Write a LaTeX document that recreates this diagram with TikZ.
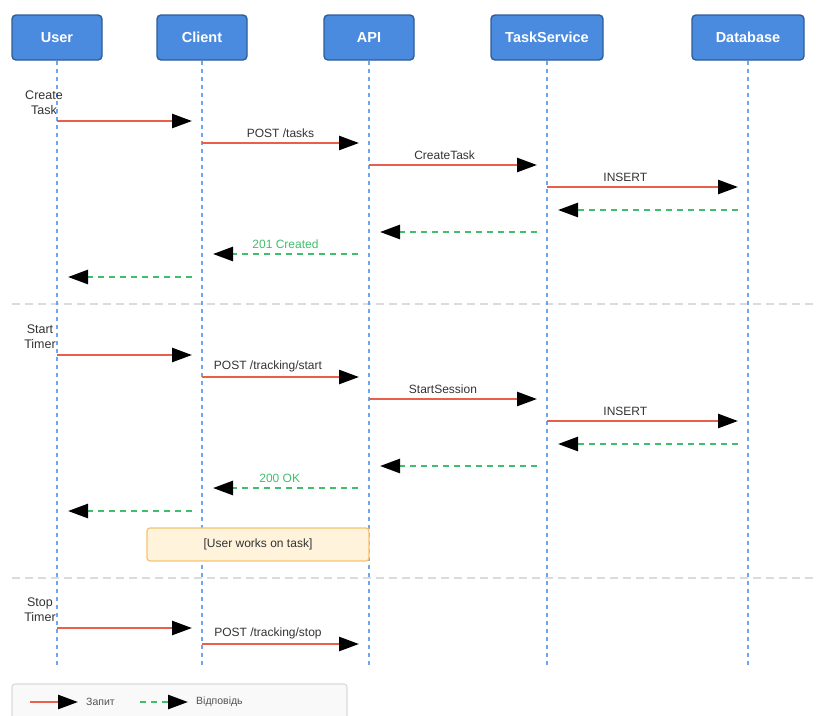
\documentclass[tikz,border=0pt]{standalone}
\usepackage{fontspec}
\setmainfont{Liberation Sans}
\usetikzlibrary{arrows.meta,positioning}
\definecolor{hdrfill}{HTML}{4A8BDF}
\definecolor{hdrdraw}{HTML}{2E5E96}
\definecolor{lifeblue}{HTML}{6FA7EA}
\definecolor{reqred}{HTML}{E8604C}
\definecolor{respgreen}{HTML}{3FBF6C}
\definecolor{txtgray}{HTML}{333333}
\definecolor{sepgray}{HTML}{D9DCDC}
\definecolor{notefill}{HTML}{FFF3DC}
\definecolor{notedraw}{HTML}{F6C26E}
\tikzstyle{actor} = [rectangle, rounded corners=4pt, minimum width=90pt, minimum height=45pt, draw=hdrdraw, line width=1.4pt, fill=hdrfill, text=white, text height=10pt, text depth=1pt, font=\fontsize{14.5}{16}\selectfont\bfseries]
\tikzstyle{life} = [lifeblue, line width=2.6pt, dash pattern=on 4pt off 4pt]
\tikzstyle{req} = [reqred, line width=2.6pt, -{Triangle[length=20pt,width=14pt,color=black,fill=black]}]
\tikzstyle{resp} = [respgreen, line width=2.6pt, dash pattern=on 6pt off 5pt, -{Triangle[length=20pt,width=14pt,color=black,fill=black]}]
\tikzstyle{msg} = [font=\fontsize{12}{14}\selectfont, text=txtgray, inner sep=1.5pt, above, yshift=2.5pt]
\tikzstyle{act} = [font=\fontsize{12.5}{15}\selectfont, text=txtgray, align=center, inner sep=0pt]
\tikzstyle{sep} = [sepgray, line width=1.6pt, dash pattern=on 8pt off 5pt]
\tikzstyle{note} = [rectangle, rounded corners=3pt, minimum width=222pt, minimum height=33pt, draw=notedraw, line width=1.2pt, fill=notefill, text=txtgray, font=\fontsize{12}{14}\selectfont]
\tikzstyle{leg} = [font=\fontsize{10.5}{12}\selectfont, text=txtgray!85, inner sep=0pt]

\begin{document}
\begin{tikzpicture}[x=1pt, y=-1pt]
    \useasboundingbox (0,0) rectangle (818,715);
    % Participants
    \node (user) [actor] at (57,37.5) {User};
    \node (client) [actor] at (202,37.5) {Client};
    \node (api) [actor] at (369,37.5) {API};
    \node (ts) [actor, minimum width=112pt] at (547,37.5) {TaskService};
    \node (db) [actor, minimum width=112pt] at (748,37.5) {Database};

    % Separators
    \draw [sep] (12,304) -- (818,304);
    \draw [sep] (12,578) -- (818,578);

    % Lifelines
    \foreach \n in {user,client,api,ts,db}
        \draw [life] (\n.south) -- (\n.south |- 0,668);

    % Create task
    \node (createlbl) [act] at (44,103) {Create\\Task};
    \draw [req] (user |- 0,121) -- ([xshift=-10pt]client |- 0,121);
    \draw [req] (client |- 0,143) -- node[msg, pos=0.5] {POST /tasks} ([xshift=-10pt]api |- 0,143);
    \draw [req] (api |- 0,165) -- node[msg, pos=0.45] {CreateTask} ([xshift=-10pt]ts |- 0,165);
    \draw [req] (ts |- 0,187) -- node[msg, pos=0.41] {INSERT} ([xshift=-10pt]db |- 0,187);
    \draw [resp] ([xshift=-10pt]db |- 0,210) -- ([xshift=11pt]ts |- 0,210);
    \draw [resp] ([xshift=-10pt]ts |- 0,232) -- ([xshift=11pt]api |- 0,232);
    \draw [resp] ([xshift=-11pt]api |- 0,254) -- node[msg, pos=0.5, text=respgreen] {201 Created} ([xshift=11pt]client |- 0,254);
    \draw [resp] ([xshift=-10pt]client |- 0,277) -- ([xshift=11pt]user |- 0,277);

    % Start timer
    \node (startlbl) [act] at (40,337) {Start\\Timer};
    \draw [req] (user |- 0,355) -- ([xshift=-10pt]client |- 0,355);
    \draw [req] (client |- 0,377) -- node[msg, pos=0.42] {POST /tracking/start} ([xshift=-10pt]api |- 0,377);
    \draw [req] (api |- 0,399) -- node[msg, pos=0.44] {StartSession} ([xshift=-10pt]ts |- 0,399);
    \draw [req] (ts |- 0,421) -- node[msg, pos=0.41] {INSERT} ([xshift=-10pt]db |- 0,421);
    \draw [resp] ([xshift=-10pt]db |- 0,444) -- ([xshift=11pt]ts |- 0,444);
    \draw [resp] ([xshift=-10pt]ts |- 0,466) -- ([xshift=11pt]api |- 0,466);
    \draw [resp] ([xshift=-11pt]api |- 0,488) -- node[msg, pos=0.54, text=respgreen] {200 OK} ([xshift=11pt]client |- 0,488);
    \draw [resp] ([xshift=-10pt]client |- 0,511) -- ([xshift=11pt]user |- 0,511);
    \node (work) [note] at (258,544.5) {[User works on task]};

    % Stop timer
    \node (stoplbl) [act] at (40,610) {Stop\\Timer};
    \draw [req] (user |- 0,628) -- ([xshift=-10pt]client |- 0,628);
    \draw [req] (client |- 0,644) -- node[msg, pos=0.42] {POST /tracking/stop} ([xshift=-10pt]api |- 0,644);

    % Legend
    \node (legend) [rectangle, rounded corners=3pt, draw=sepgray, line width=1.2pt, fill=gray!5, minimum width=335pt, minimum height=40pt] at (179.5,704) {};
    \coordinate (rq0) at (30,702);
    \coordinate (rq1) at (78,702);
    \coordinate (rs0) at (140,702);
    \coordinate (rs1) at (188,702);
    \draw [req] (rq0) -- (rq1);
    \node (rqlbl) [leg, right=8pt of rq1] {Запит};
    \draw [resp] (rs0) -- (rs1);
    \node (rslbl) [leg, right=8pt of rs1] {Відповідь};
\end{tikzpicture}
\end{document}
